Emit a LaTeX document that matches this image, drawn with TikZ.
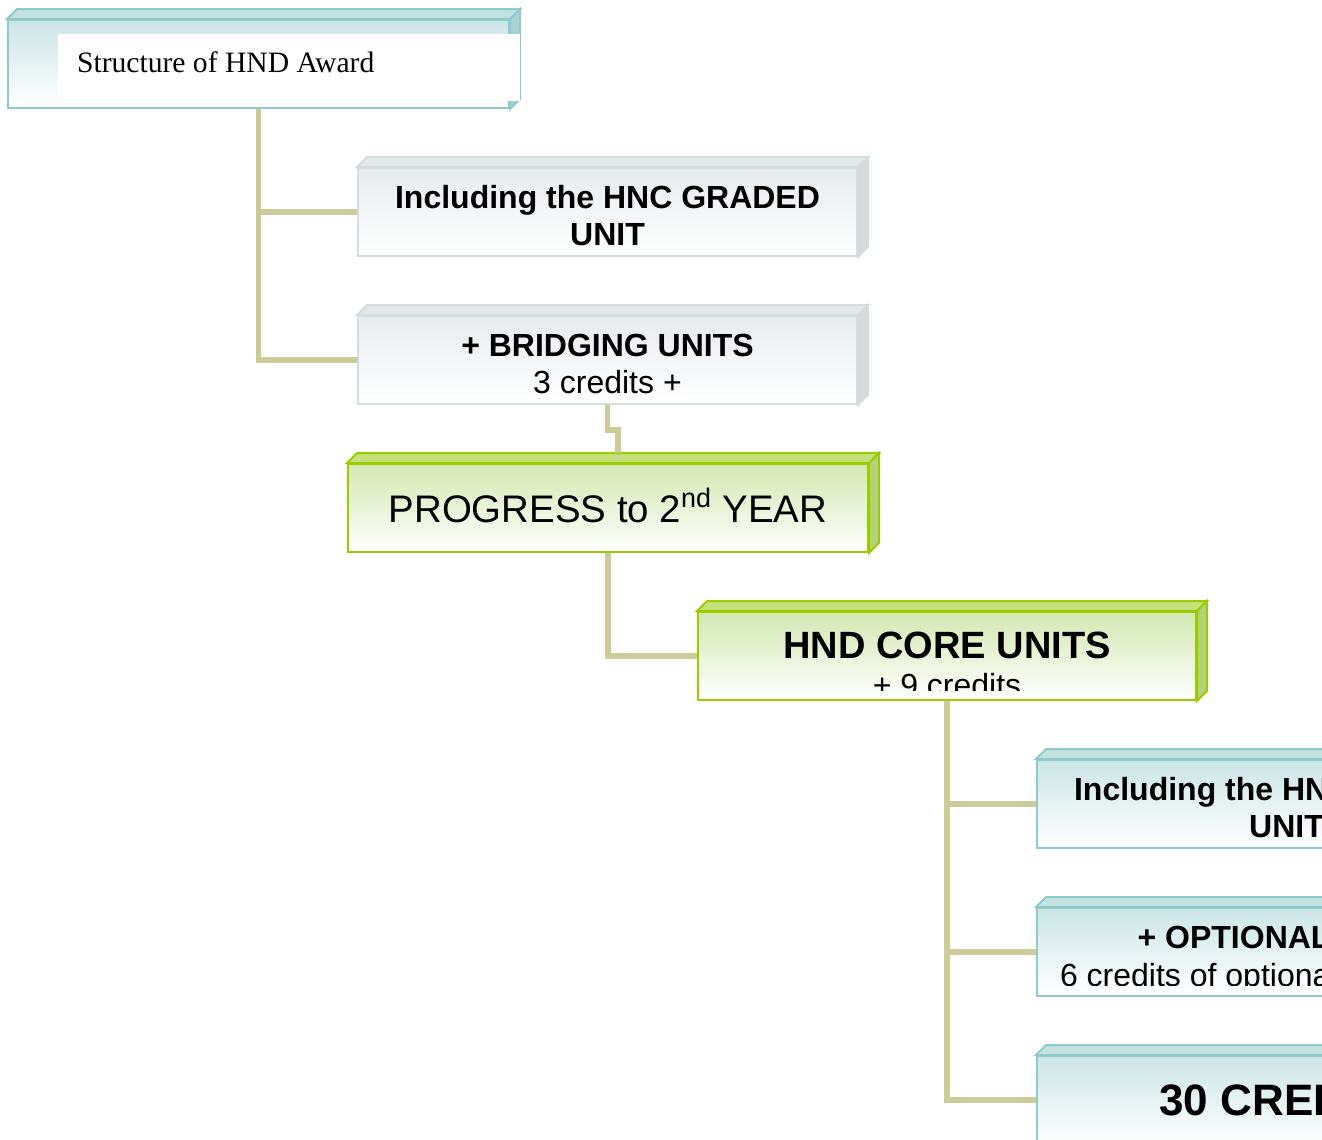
\documentclass[tikz,border=0pt]{standalone}
\usepackage{fontspec}
\setmainfont{Liberation Serif}
\newfontfamily\arialfam{Liberation Sans}
\usepackage{xcolor}
\usetikzlibrary{positioning}

\definecolor{lineaC}{HTML}{CCCC99}
\definecolor{bordeT}{HTML}{8FCACA}
\definecolor{rellenoT}{HTML}{CBE5E6}
\definecolor{techoT}{HTML}{C3E1E1}
\definecolor{ladoT}{HTML}{A8D2D2}
\definecolor{bordeG}{HTML}{D3DDDE}
\definecolor{rellenoG}{HTML}{E7EBED}
\definecolor{techoG}{HTML}{E2E7E8}
\definecolor{ladoG}{HTML}{D5DADB}
\definecolor{bordeV}{HTML}{99CC00}
\definecolor{rellenoV}{HTML}{D3E7B1}
\definecolor{techoV}{HTML}{C5E07A}
\definecolor{ladoV}{HTML}{B6D276}

\begin{document}
\begin{tikzpicture}[x = 0.5pt, y = -0.5pt,
	caja/.style = {rectangle, inner sep = 0pt, minimum width = 249.5pt, minimum height = 44pt, line width = 1pt, align = center, font = \arialfam\fontsize{16}{18.5}\selectfont},
	cajaT/.style = {caja, draw = bordeT, top color = rellenoT, bottom color = white},
	cajaG/.style = {caja, draw = bordeG, top color = rellenoG, bottom color = white},
	cajaV/.style = {caja, draw = bordeV, top color = rellenoV, bottom color = white},
	enlace/.style = {draw = lineaC, line width = 2.75pt}]

	\useasboundingbox (0, 0) rectangle (1322, 1140);
	\clip (0, 0) rectangle (1322, 1140);

	% Cajas
	\node[cajaT, minimum width = 250.5pt] (title) at (258.5, 64) {};
	\node[cajaG] (hncgraded) at (607.5, 212) {\rule{0pt}{15pt}\textbf{Including the HNC GRADED}\\\textbf{UNIT}};
	\node[cajaG] (bridging) at (607.5, 360) {\rule{0pt}{15pt}\textbf{+ BRIDGING UNITS}\\3 credits +};
	\node[cajaV, minimum width = 260pt, font = \arialfam\fontsize{19.2}{22}\selectfont] (progress) at (608, 508) {\raisebox{2.5pt}{PROGRESS to 2\textsuperscript{nd} YEAR}};
	\node[cajaV, minimum width = 249pt] (hndcore) at (947, 656) {};
	\node[cajaT] (hndgraded) at (1286.5, 804) {\rule{0pt}{15pt}\textbf{Including the HND GRADED}\\\textbf{UNIT}};
	\node[cajaT] (optional) at (1286.5, 952) {};
	\node[cajaT, font = \arialfam\bfseries\fontsize{22}{26}\selectfont] (credits) at (1286.5, 1100) {30 CREDITS};

	% Caras superiores y laterales
	\filldraw[fill = techoT, draw = bordeT, line width = 1pt] (title.north west) -- ++(10, -10) -- ([shift = {(10, -10)}]title.north east) -- (title.north east) -- cycle;
	\filldraw[fill = ladoT, draw = bordeT, line width = 1pt] (title.north east) -- ++(10, -10) -- ([shift = {(10, -10)}]title.south east) -- (title.south east) -- cycle;
	\filldraw[fill = techoG, draw = bordeG, line width = 1pt] (hncgraded.north west) -- ++(10, -10) -- ([shift = {(10, -10)}]hncgraded.north east) -- (hncgraded.north east) -- cycle;
	\filldraw[fill = ladoG, draw = bordeG, line width = 1pt] (hncgraded.north east) -- ++(10, -10) -- ([shift = {(10, -10)}]hncgraded.south east) -- (hncgraded.south east) -- cycle;
	\filldraw[fill = techoG, draw = bordeG, line width = 1pt] (bridging.north west) -- ++(10, -10) -- ([shift = {(10, -10)}]bridging.north east) -- (bridging.north east) -- cycle;
	\filldraw[fill = ladoG, draw = bordeG, line width = 1pt] (bridging.north east) -- ++(10, -10) -- ([shift = {(10, -10)}]bridging.south east) -- (bridging.south east) -- cycle;
	\filldraw[fill = techoV, draw = bordeV, line width = 1pt] (progress.north west) -- ++(10, -10) -- ([shift = {(10, -10)}]progress.north east) -- (progress.north east) -- cycle;
	\filldraw[fill = ladoV, draw = bordeV, line width = 1pt] (progress.north east) -- ++(10, -10) -- ([shift = {(10, -10)}]progress.south east) -- (progress.south east) -- cycle;
	\filldraw[fill = techoV, draw = bordeV, line width = 1pt] (hndcore.north west) -- ++(10, -10) -- ([shift = {(10, -10)}]hndcore.north east) -- (hndcore.north east) -- cycle;
	\filldraw[fill = ladoV, draw = bordeV, line width = 1pt] (hndcore.north east) -- ++(10, -10) -- ([shift = {(10, -10)}]hndcore.south east) -- (hndcore.south east) -- cycle;
	\filldraw[fill = techoT, draw = bordeT, line width = 1pt] (hndgraded.north west) -- ++(10, -10) -- ([shift = {(10, -10)}]hndgraded.north east) -- (hndgraded.north east) -- cycle;
	\filldraw[fill = techoT, draw = bordeT, line width = 1pt] (optional.north west) -- ++(10, -10) -- ([shift = {(10, -10)}]optional.north east) -- (optional.north east) -- cycle;
	\filldraw[fill = techoT, draw = bordeT, line width = 1pt] (credits.north west) -- ++(10, -10) -- ([shift = {(10, -10)}]credits.north east) -- (credits.north east) -- cycle;

	% Titulo
	\fill[white] (58, 34) rectangle (519.5, 101);
	\node[anchor = base west, font = \fontsize{14.8}{17}\selectfont] (titulo) at (70, 72) {Structure of HND Award};

	% Textos recortados
	\node[anchor = base, font = \arialfam\bfseries\fontsize{19}{22}\selectfont] (hndcoretxt) at (947, 658) {HND CORE UNITS};
	\node[anchor = base, font = \arialfam\bfseries\fontsize{16}{18.5}\selectfont] (optionaltxt) at (1286.5, 948) {+ OPTIONAL UNITS};
	\begin{scope}
		\clip (698, 612) rectangle (1196, 690); % + 9 credits
		\node[anchor = base, font = \arialfam\fontsize{16}{18.5}\selectfont] (hndcorecred) at (947, 696) {+ 9 credits};
	\end{scope}
	\begin{scope}
		\clip (1037, 908) rectangle (1536, 985); % 6 credits
		\node[anchor = base west, font = \arialfam\fontsize{16}{18.5}\selectfont] (optionalcred) at (1053, 986) {6 credits of optional units};
	\end{scope}

	% Conectores
	\draw[enlace] (title.south) |- (hncgraded.west);
	\draw[enlace] (title.south) |- (bridging.west);
	\draw[enlace] (bridging.south) -- ++(0, 25) -| ([shift = {(10, -10)}]progress.north);
	\draw[enlace] (progress.south) |- (hndcore.west);
	\draw[enlace] (hndcore.south) |- (hndgraded.west);
	\draw[enlace] (hndcore.south) |- (optional.west);
	\draw[enlace] (hndcore.south) |- (credits.west);

\end{tikzpicture}
\end{document}
